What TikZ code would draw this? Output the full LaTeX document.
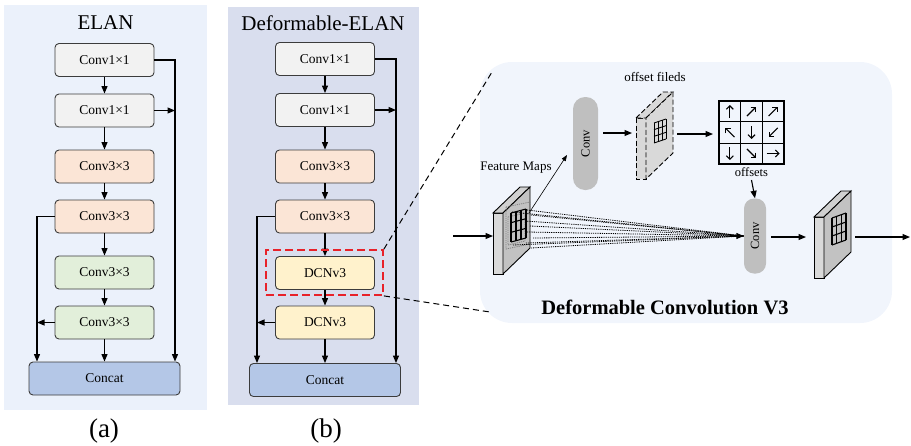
\documentclass[tikz,border=0pt]{standalone}
\usepackage{fontspec}
\setmainfont{Liberation Serif}
\usetikzlibrary{arrows.meta,calc}

\definecolor{elanbg}{HTML}{EBF1FB}
\definecolor{delanbg}{HTML}{D9DEEE}
\definecolor{dcnbg}{HTML}{F1F5FC}
\definecolor{onefill}{HTML}{F2F2F2}
\definecolor{threefill}{HTML}{FBE5D6}
\definecolor{greenfill}{HTML}{E2EFDA}
\definecolor{dcnfill}{HTML}{FFF2CC}
\definecolor{catfill}{HTML}{B4C7E7}
\definecolor{edgegray}{HTML}{3C3C3C}
\definecolor{convgray}{HTML}{BFBFBF}
\definecolor{slabside}{HTML}{D9D9D9}
\definecolor{slabtop}{HTML}{D0D0D0}
\definecolor{slabface}{HTML}{C2C2C2}
\definecolor{hlred}{HTML}{E8222A}

% a thin 3-D feature slab; #1 = top-left corner of its front edge, #2 = outline style
\newcommand\featslab[2]{%
  \begin{scope}[shift={#1}]
    \filldraw[fill=slabside, line width=0.9pt, #2] (0,0) rectangle (10,61);
    \filldraw[fill=slabtop, line width=0.9pt, #2] (0,0) -- (10,0) -- (37,-26) -- (27,-26) -- cycle;
    \filldraw[fill=slabface, line width=0.9pt, #2] (10,0) -- (37,-26) -- (37,35) -- (10,61) -- cycle;
  \end{scope}}

% a skewed 3x3 grid given by its four corners TL, TR, BL, BR (relative to #1)
\newcommand\skewgrid[6]{%
  \begin{scope}[shift={#1}]
    \foreach \gk in {0,1,2,3}{
      \draw[line width=#6] ($#2!\gk/3!#4$) -- ($#3!\gk/3!#5$);
      \draw[line width=#6] ($#2!\gk/3!#3$) -- ($#4!\gk/3!#5$);
    }
  \end{scope}}

\begin{document}
\begin{tikzpicture}[x=1pt,y=-1pt,
  blk/.style={draw=edgegray, line width=0.9pt, rounded corners=4pt,
    minimum width=99pt, minimum height=33pt, inner sep=0pt,
    font=\fontsize{13.5}{15}\selectfont},
  catblk/.style={blk, fill=catfill, minimum width=151pt},
  flow/.style={line width=1.1pt, -{Triangle[length=7.5pt,width=6pt]}},
  thinflow/.style={line width=0.6pt, -{Triangle[length=6pt,width=4.5pt]}},
  title/.style={font=\fontsize{21}{24}\selectfont},
  sublabel/.style={font=\fontsize{27}{30}\selectfont},
  smalltext/.style={font=\fontsize{13}{15}\selectfont},
  convn/.style={fill=convgray, inner sep=0pt, font=\fontsize{12.5}{14}\selectfont},
  zoomline/.style={line width=1pt, dash pattern=on 6pt off 4pt},
  sample/.style={line width=0.8pt, dash pattern=on 1.2pt off 1pt},
  cellarrow/.style={line width=1.1pt, -{Straight Barb[length=3.5pt,width=7pt]}},
]
\useasboundingbox (0,0) rectangle (911,445);

% ---------- (a) ELAN ----------
\fill[elanbg] (4,5) rectangle (207,410);
\node[title] (atitle) at (105.5,23) {ELAN};
\node[blk, fill=onefill]   (a1) at (104.5,60)    {Conv1×1};
\node[blk, fill=onefill]   (a2) at (104.5,110.5) {Conv1×1};
\node[blk, fill=threefill] (a3) at (104.5,166.5) {Conv3×3};
\node[blk, fill=threefill] (a4) at (104.5,216.5) {Conv3×3};
\node[blk, fill=greenfill] (a5) at (104.5,272.5) {Conv3×3};
\node[blk, fill=greenfill] (a6) at (104.5,322.5) {Conv3×3};
\node[catblk] (ac) at (104.5,378.5) {Concat};
\node[sublabel] (alab) at (104,431) {(a)};

\draw[flow] (a1) -- (a2);
\draw[flow] (a2) -- (a3);
\draw[flow] (a3) -- (a4);
\draw[flow] (a4) -- (a5);
\draw[flow] (a5) -- (a6);
\draw[flow] (a6) -- (ac);
\coordinate (aR) at (175,60);
\coordinate (aL) at (37,216.5);
\draw[flow] (a1.east) -- (aR) -- (aR |- ac.north);
\draw[flow] (a2.east) -- (a2.east -| aR);
\draw[flow] (a4.west) -- (aL) -- (aL |- ac.north);
\draw[flow] (a6.west) -- (a6.west -| aL);

% ---------- (b) Deformable-ELAN ----------
\fill[delanbg] (228,7) rectangle (419,405);
\node[title] (btitle) at (323,23) {Deformable-ELAN};
\node[blk, fill=onefill]   (b1) at (325,59)    {Conv1×1};
\node[blk, fill=onefill]   (b2) at (325,110)   {Conv1×1};
\node[blk, fill=threefill] (b3) at (325,166.5) {Conv3×3};
\node[blk, fill=threefill] (b4) at (325,216.5) {Conv3×3};
\node[blk, fill=dcnfill]   (b5) at (325,273)   {DCNv3};
\node[blk, fill=dcnfill]   (b6) at (325,322.5) {DCNv3};
\node[catblk] (bc) at (325,380) {Concat};
\node[sublabel] (blab) at (326,431) {(b)};

\draw[flow] (b1) -- (b2);
\draw[flow] (b2) -- (b3);
\draw[flow] (b3) -- (b4);
\draw[flow] (b4) -- (b5);
\draw[flow] (b5) -- (b6);
\draw[flow] (b6) -- (bc);
\coordinate (bR) at (396,59);
\coordinate (bL) at (257,216.5);
\draw[flow] (b1.east) -- (bR) -- (bR |- bc.north);
\draw[flow] (b2.east) -- (b2.east -| bR);
\draw[flow] (b4.west) -- (bL) -- (bL |- bc.north);
\draw[flow] (b6.west) -- (b6.west -| bL);

% highlighted DCNv3 block
\node[draw=hlred, line width=1.8pt, dash pattern=on 8pt off 4pt,
      minimum width=117pt, minimum height=45pt, inner sep=0pt] (hl) at (324.5,272.5) {};

% ---------- Deformable Convolution V3 ----------
\fill[dcnbg, rounded corners=32pt] (480,62) rectangle (892,323);
\coordinate (zt) at (492,72);
\coordinate (zb) at (490,312);
\draw[zoomline] (hl.north east) -- (zt);
\draw[zoomline] (hl.south east) -- (zb);

\node[font=\bfseries\fontsize{20.5}{24}\selectfont] (dtitle) at (665,307) {Deformable Convolution V3};

% input feature maps
\featslab{(493,213)}{}
\begin{scope}[shift={(493,213)}]
  \draw[gray, sample] (13,-6) -- (37,-11) -- (37,31) -- (13,36) -- cycle;
  \draw[gray, sample] (15,4) -- (32,0) -- (32,28) -- (15,32) -- cycle;
\end{scope}
\skewgrid{(493,213)}{(18,0)}{(33,-4)}{(18,29)}{(33,25)}{1.1pt}
\node[smalltext] (fmlab) at (516,168) {Feature Maps};
\coordinate (fmin) at (493,236);
\coordinate (inS) at (453,236);
\draw[flow] (inS) -- (fmin);

% convolution that predicts the offsets
\node[convn, rounded corners=12pt, minimum width=25pt, minimum height=93pt] (conv1) at (585.5,143.5) {\rotatebox{90}{Conv}};
\coordinate (fmtr) at (529,213);
\coordinate (c1in) at (567,155);
\draw[thinflow] (fmtr) -- (c1in);

% offset fields
\featslab{(636,118)}{dashed, dash pattern=on 5pt off 2.5pt, fill=slabside}
\skewgrid{(636,118)}{(18,5)}{(30,1)}{(18,25)}{(30,21)}{0.9pt}
\node[smalltext] (oflab) at (655,77) {offset fileds};
\coordinate (c1out) at (603,133);
\coordinate (ofin) at (632,133);
\coordinate (ofout) at (677,134);
\coordinate (ofend) at (713,134);
\draw[flow] (c1out) -- (ofin);
\draw[flow] (ofout) -- (ofend);

% offsets grid
\node[draw, line width=1.3pt, minimum width=65pt, minimum height=63pt, inner sep=0pt] (offg) at (751.5,132.5) {};
\foreach \gk in {1,2}{
  \draw[line width=1.3pt] ($(offg.north west)!\gk/3!(offg.north east)$) -- ($(offg.south west)!\gk/3!(offg.south east)$);
  \draw[line width=1.3pt] ($(offg.north west)!\gk/3!(offg.south west)$) -- ($(offg.north east)!\gk/3!(offg.south east)$);
}
\foreach \px/\py/\ux/\uy in {
  729.8/111.5/0/-1, 751.5/111.5/0.707/-0.707, 773.2/111.5/0.707/-0.707,
  729.8/132.5/-0.707/-0.707, 751.5/132.5/0/1, 773.2/132.5/-0.707/0.707,
  729.8/153.5/0/1, 751.5/153.5/0.707/0.707, 773.2/153.5/1/0}{
  \draw[cellarrow] ({\px-6.5*(\ux)},{\py-6.5*(\uy)}) -- ({\px+6.5*(\ux)},{\py+6.5*(\uy)});
}
\node[font=\fontsize{12.5}{14}\selectfont] (offlab) at (751.5,172) {offsets};

% deformable convolution
\node[convn, rounded corners=10pt, minimum width=22pt, minimum height=75pt] (conv2) at (755,236) {\rotatebox{90}{Conv}};
\draw[flow] (offlab.south) -- (conv2.north);
\foreach \sx/\sy in {527/210, 531/215, 525/221, 530/226, 527/232, 533/238, 526/243, 531/248, 513/245, 512/212}{
  \draw[sample] (\sx,\sy) -- (conv2.west);
}
\draw[flow] ($(conv2.west)+(-14,0)$) -- (conv2.west);

% output feature maps
\featslab{(814,217)}{}
\skewgrid{(814,217)}{(18,1)}{(32,-4)}{(18,28)}{(32,23)}{1.1pt}
\coordinate (c2out) at (771,237);
\coordinate (outin) at (806,237);
\coordinate (outout) at (855,237);
\coordinate (outend) at (910,237);
\draw[flow] (c2out) -- (outin);
\draw[flow] (outout) -- (outend);
\end{tikzpicture}
\end{document}
